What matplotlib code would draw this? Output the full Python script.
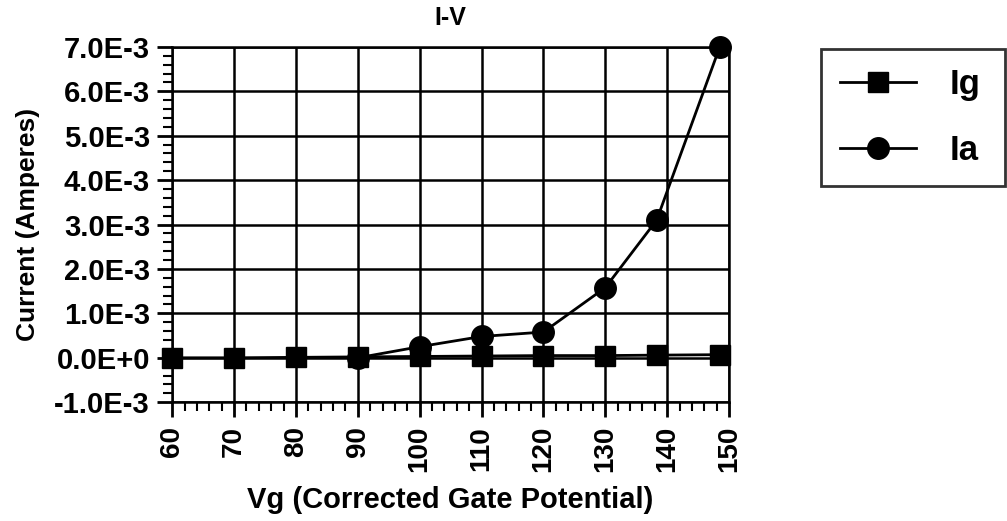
import matplotlib
matplotlib.use("Agg")
from matplotlib import pyplot as plt
from matplotlib.ticker import MultipleLocator, FixedLocator

plt.rcParams["font.family"] = ["Liberation Sans", "DejaVu Sans"]
plt.rcParams["font.weight"] = "bold"

# data
vg_ig = [60, 70, 80, 90, 100, 110, 120, 130, 138.3, 148.5]
ig = [0.0, 0.0, 0.01e-3, 0.02e-3, 0.03e-3, 0.04e-3, 0.05e-3, 0.05e-3, 0.06e-3, 0.07e-3]
vg_ia = [90, 100, 110, 120, 130, 138.3, 148.5]
ia = [0.0, 0.25e-3, 0.48e-3, 0.58e-3, 1.58e-3, 3.1e-3, 7.0e-3]

x_ticks = [60, 70, 80, 90, 100, 110, 120, 130, 140, 150]
y_ticks = [-1e-3, 0, 1e-3, 2e-3, 3e-3, 4e-3, 5e-3, 6e-3, 7e-3]
y_labels = ["-1.0E-3", "0.0E+0", "1.0E-3", "2.0E-3", "3.0E-3",
            "4.0E-3", "5.0E-3", "6.0E-3", "7.0E-3"]

fig = plt.figure(figsize=(10.07, 5.21), dpi=100)
ax = fig.add_axes([0.171, 0.228, 0.553, 0.682])

ax.plot(vg_ig, ig, color="black", lw=2, marker="s", ms=15, label="Ig",
        zorder=3, clip_on=False)
ax.plot(vg_ia, ia, color="black", lw=2, marker="o", ms=15.5, label="Ia",
        zorder=4, clip_on=False)

ax.set_xlim(60, 150)
ax.set_ylim(-1e-3, 7e-3)
ax.xaxis.set_major_locator(FixedLocator(x_ticks))
ax.xaxis.set_minor_locator(MultipleLocator(2))
ax.yaxis.set_major_locator(FixedLocator(y_ticks))
ax.yaxis.set_minor_locator(MultipleLocator(0.2e-3))
ax.set_yticklabels(y_labels, fontsize=21, fontweight="bold")
ax.set_xticklabels([str(t) for t in x_ticks], fontsize=20, fontweight="bold",
                   rotation=90)

ax.tick_params(which="major", direction="out", length=11, width=2)
ax.tick_params(axis="y", which="major", pad=5)
ax.tick_params(axis="x", which="major", pad=6)
ax.tick_params(which="minor", direction="out", length=6.5, width=1.5)
ax.grid(True, which="major", color="black", lw=1.8)
for s in ax.spines.values():
    s.set_linewidth(1.8)

ax.set_title("I-V", fontsize=18, fontweight="bold", pad=16)
ax.set_xlabel("Vg (Corrected Gate Potential)", fontsize=21, fontweight="bold",
              labelpad=10)
ax.set_ylabel("Current (Amperes)", fontsize=19, fontweight="bold", labelpad=10)

leg = fig.legend(loc="upper left",
                 bbox_to_anchor=(821 / 1007, 1 - 183 / 521, 184 / 1007, 134 / 521),
                 mode="expand", borderaxespad=0,
                 fontsize=25, frameon=True, fancybox=False, edgecolor="black",
                 handlelength=2.2, borderpad=0.55, labelspacing=0.95,
                 handletextpad=0.95, markerscale=1.0)
leg.get_frame().set_linewidth(2)
for t in leg.get_texts():
    t.set_fontweight("bold")

fig.savefig("out.png", dpi=100)
